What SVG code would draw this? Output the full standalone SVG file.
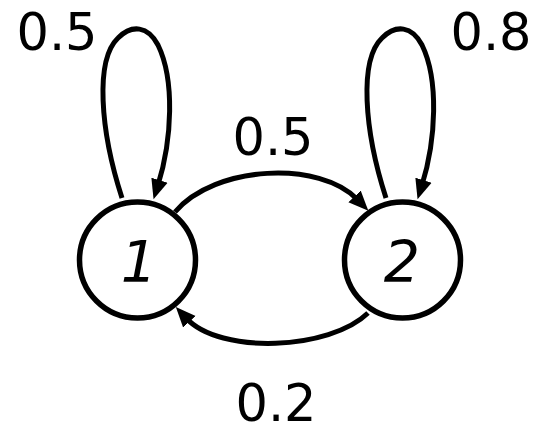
<svg xmlns="http://www.w3.org/2000/svg" width="539" height="427" viewBox="0 0 539 427">
<style>
.node{fill:#fff;stroke:#000;stroke-width:5.5}
.edge{fill:none;stroke:#000;stroke-width:5;marker-end:url(#arr)}
.nl{font-family:"DejaVu Sans",sans-serif;font-style:italic;font-size:57px;text-anchor:middle}
.el{font-family:"DejaVu Sans",sans-serif;font-size:51px;text-anchor:middle}
</style>
<defs>
<marker id="arr" markerUnits="userSpaceOnUse" markerWidth="21" markerHeight="18" refX="5" refY="8.5" orient="auto" viewBox="0 0 21 17">
<path d="M0,0 L20,8.5 L0,17 z" fill="#000"/>
</marker>
</defs>
<g id="edges">
<path class="edge" d="M122,198 C100,130 95,60 118,38 C132,24 148,26 158,45 C175,80 172,140 158,185"/>
<path class="edge" d="M386,198 C364,130 359,60 382,38 C396,24 412,26 422,45 C439,80 436,140 422,185"/>
<path class="edge" d="M175,212 C215,165 320,160 358,200"/>
<path class="edge" d="M368,313 C330,350 220,355 186,318"/>
</g>
<g id="node1">
<circle class="node" cx="137.5" cy="260" r="58"/>
<text class="nl" x="139" y="282">1</text>
</g>
<g id="node2">
<circle class="node" cx="402.5" cy="260" r="58"/>
<text class="nl" x="402" y="282">2</text>
</g>
<g id="labels">
<text class="el" x="57" y="50">0.5</text>
<text class="el" x="491" y="50">0.8</text>
<text class="el" x="273" y="155">0.5</text>
<text class="el" x="276" y="421">0.2</text>
</g>
</svg>
